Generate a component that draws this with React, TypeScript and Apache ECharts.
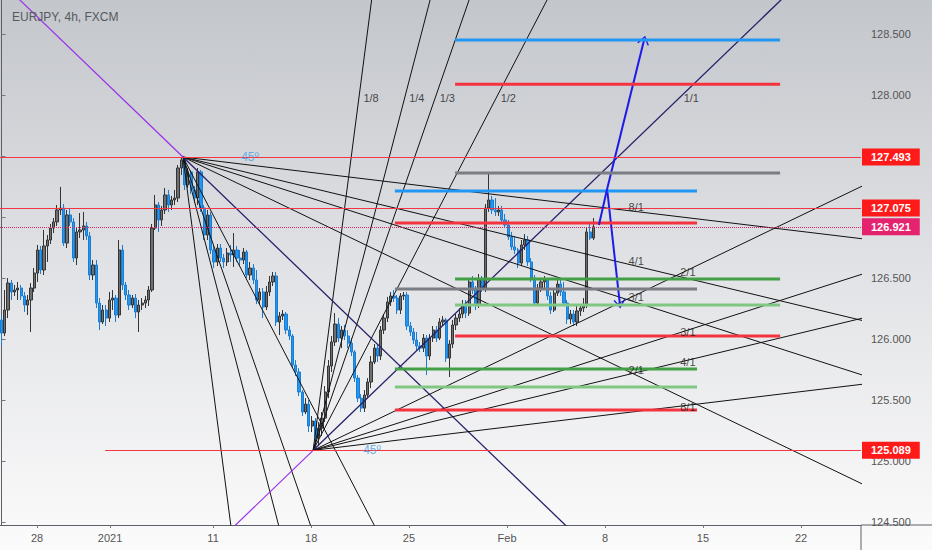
import React, { useEffect, useRef } from "react";
import * as echarts from "echarts";

// ---- candle data (4h bars, index 0 = first visible bar) ----
const FIRST_OPEN = 126.157;
const closes = [
  126.050, 126.239, 126.460, 126.387, 126.403, 126.419, 126.354, 126.280, 126.321, 126.419,
  126.542, 126.731, 126.567, 126.764, 126.813, 126.911, 126.961, 127.059, 127.075, 126.788,
  127.018, 126.961, 126.665, 126.879, 126.895, 126.928, 126.846, 126.526, 126.608, 126.296,
  126.141, 126.239, 126.173, 126.321, 126.337, 126.198, 126.731, 126.444, 126.362, 126.280,
  126.337, 126.223, 126.280, 126.296, 126.321, 126.403, 126.911, 127.100, 126.977, 127.059,
  127.182, 127.100, 127.141, 127.157, 127.403, 127.469, 127.264, 127.371, 127.223, 127.157,
  127.371, 127.075, 126.854, 127.018, 126.731, 126.633, 126.747, 126.665, 126.633, 126.706,
  126.690, 126.731, 126.665, 126.649, 126.715, 126.526, 126.583, 126.485, 126.321, 126.387,
  126.264, 126.387, 126.469, 126.518, 126.141, 126.190, 126.206, 126.075, 126.026, 125.788,
  125.731, 125.567, 125.403, 125.468, 125.288, 125.329, 125.198, 125.271, 125.353, 125.567,
  125.780, 125.977, 126.124, 126.009, 126.075, 126.026, 125.968, 125.895, 125.681, 125.517,
  125.435, 125.542, 125.649, 125.813, 125.927, 125.862, 126.075, 126.173, 126.305, 126.354,
  126.337, 126.239, 126.354, 126.362, 126.108, 126.059, 125.993, 125.944, 125.927, 126.009,
  125.862, 126.009, 126.075, 126.009, 126.141, 126.157, 125.845, 125.960, 126.116, 126.173,
  126.206, 126.280, 126.214, 126.469, 126.403, 126.280, 126.485, 126.419, 127.075, 127.141,
  127.059, 127.043, 127.059, 126.977, 126.936, 126.838, 126.756, 126.731, 126.624, 126.772,
  126.813, 126.633, 126.501, 126.296, 126.419, 126.469, 126.485, 126.354, 126.239, 126.378,
  126.452, 126.387, 126.296, 126.165, 126.206, 126.141, 126.231, 126.255, 126.288, 126.879,
  126.829, 126.921,
];
const highs = [
  126.198, 126.403, 126.501, 126.485, 126.444, 126.469, 126.444, 126.387, 126.362, 126.460,
  126.583, 126.772, 126.764, 126.895, 126.854, 126.944, 126.993, 127.100, 127.248, 127.108,
  127.059, 127.075, 126.993, 126.911, 127.034, 127.043, 126.961, 126.879, 126.649, 126.649,
  126.337, 126.280, 126.280, 126.387, 126.403, 126.362, 126.813, 126.772, 126.469, 126.403,
  126.362, 126.370, 126.321, 126.337, 126.354, 126.436, 126.944, 127.182, 127.124, 127.092,
  127.239, 127.223, 127.174, 127.223, 127.428, 127.493, 127.485, 127.403, 127.387, 127.256,
  127.403, 127.387, 127.100, 127.059, 127.043, 126.772, 126.780, 126.780, 126.698, 126.747,
  126.772, 126.870, 126.764, 126.731, 126.747, 126.731, 126.633, 126.616, 126.567, 126.419,
  126.419, 126.436, 126.518, 126.551, 126.551, 126.223, 126.239, 126.223, 126.108, 126.042,
  125.829, 125.763, 125.583, 125.517, 125.501, 125.370, 125.353, 125.321, 125.403, 125.616,
  125.829, 126.026, 126.214, 126.173, 126.108, 126.116, 126.075, 126.009, 125.911, 125.706,
  125.550, 125.583, 125.681, 125.862, 125.960, 125.960, 126.108, 126.206, 126.346, 126.387,
  126.403, 126.362, 126.378, 126.387, 126.387, 126.141, 126.091, 126.059, 125.977, 126.042,
  126.034, 126.042, 126.108, 126.108, 126.173, 126.190, 126.173, 125.993, 126.157, 126.206,
  126.255, 126.321, 126.321, 126.501, 126.518, 126.436, 126.534, 126.518, 127.108, 127.362,
  127.174, 127.157, 127.092, 127.092, 127.026, 126.977, 126.879, 126.846, 126.747, 126.813,
  126.862, 126.846, 126.665, 126.526, 126.452, 126.501, 126.518, 126.501, 126.387, 126.403,
  126.485, 126.485, 126.469, 126.321, 126.239, 126.239, 126.272, 126.288, 126.337, 126.911,
  126.952, 126.993,
];
const lows = [
  125.952, 126.026, 126.173, 126.321, 126.354, 126.321, 126.321, 126.223, 126.198, 126.059,
  126.387, 126.469, 126.534, 126.526, 126.633, 126.780, 126.870, 126.928, 127.018, 126.764,
  126.747, 126.928, 126.633, 126.608, 126.829, 126.813, 126.813, 126.485, 126.485, 126.255,
  126.075, 126.124, 126.108, 126.141, 126.239, 126.141, 126.173, 126.403, 126.321, 126.239,
  126.255, 126.173, 126.059, 126.239, 126.255, 126.272, 126.387, 126.895, 126.879, 126.928,
  127.026, 127.043, 127.059, 127.100, 127.124, 127.346, 127.223, 127.239, 127.190, 127.116,
  127.100, 127.043, 126.813, 126.813, 126.698, 126.583, 126.600, 126.633, 126.583, 126.600,
  126.633, 126.592, 126.633, 126.600, 126.616, 126.501, 126.485, 126.452, 126.288, 126.288,
  126.173, 126.239, 126.354, 126.436, 126.108, 126.034, 126.157, 126.042, 125.993, 125.763,
  125.698, 125.534, 125.370, 125.386, 125.239, 125.239, 125.089, 125.124, 125.206, 125.321,
  125.517, 125.731, 125.944, 125.977, 125.927, 125.993, 125.927, 125.862, 125.649, 125.485,
  125.403, 125.403, 125.517, 125.599, 125.796, 125.813, 125.829, 126.042, 126.141, 126.272,
  126.305, 126.206, 126.206, 126.321, 126.075, 126.026, 125.960, 125.911, 125.895, 125.895,
  125.706, 125.829, 125.977, 125.977, 125.993, 126.108, 125.813, 125.690, 125.927, 126.075,
  126.141, 126.173, 126.173, 126.190, 126.370, 126.239, 126.255, 126.387, 126.387, 127.043,
  127.026, 127.010, 127.010, 126.944, 126.911, 126.813, 126.731, 126.698, 126.583, 126.600,
  126.731, 126.600, 126.469, 126.272, 126.272, 126.387, 126.403, 126.321, 126.206, 126.223,
  126.354, 126.354, 126.272, 126.124, 126.124, 126.108, 126.108, 126.190, 126.223, 126.255,
  126.813, 126.813,
];

// ---- axes ----
const X_MIN = -0.46;
const X_MAX = 262.84;
const Y_MIN = 124.477;
const Y_MAX = 128.78;
const xTickPos = [10.86, 33.2, 64.7, 94.7, 124.6, 154.6, 184.6, 214.5, 244.5];
const xTickLabels = ["28", "2021", "11", "18", "25", "Feb", "8", "15", "22"];
const yTicks = [124.5, 125, 125.5, 126, 126.5, 127, 127.5, 128, 128.5];
const yTickLabels = [124.5, 125, 125.5, 126, 126.5, 128, 128.5]; // 127.000 / 127.500 sit under the price tags

// ---- price levels with axis tags ----
const levelPrices = [127.493, 127.075, 126.921, 125.089];
const levelStarts = [X_MIN, X_MIN, X_MIN, 31.7];
const levelColors = ["#f23645", "#f23645", "#e91e63", "#f23645"];
const levelTagColors = ["#ff1a1a", "#ff1a1a", "#e5226d", "#ff1a1a"];
const levelTypes = ["solid", "solid", "dotted", "solid"];

// ---- Gann fans ----
const fanTop = [55.5, 127.493];
const fanBottom = [95.3, 125.089];
const UNIT_SLOPE = 0.0258; // price per bar for the 1/1 line
const fanRatios = [8, 4, 3, 2, 1, 1 / 2, 1 / 3, 1 / 4, 1 / 8];
const topFanLabels = ["8/1", "4/1", "3/1", "2/1"];
const topFanLabelRatios = [1 / 8, 1 / 4, 1 / 3, 1 / 2];
const TOP_LABEL_X = 194.1;
const bottomFlatLabels = ["2/1", "3/1", "4/1", "8/1"];
const bottomFlatRatios = [1 / 2, 1 / 3, 1 / 4, 1 / 8];
const BOTTOM_FLAT_X = 209.9;
const bottomSteepLabels = ["1/8", "1/4", "1/3", "1/2", "1/1"];
const bottomSteepRatios = [8, 4, 3, 2, 1];
const BOTTOM_STEEP_PRICE = 127.977;
const angleLabelPos = [
  [76, 127.493],
  [113.3, 125.089],
];

// ---- target / level segments ----
const segPrices = [128.452, 128.09, 127.362, 127.214, 126.952, 126.493, 126.411, 126.28, 126.026, 125.755, 125.608, 125.419];
const segStarts = [138.7, 138.7, 138.7, 120.3, 120.3, 138.7, 120.3, 138.7, 138.7, 120.3, 120.3, 120.3];
const segEnds = [238.1, 238.1, 238.1, 212.7, 212.7, 238.1, 212.7, 238.1, 238.1, 212.7, 212.7, 212.7];
const segColors = ["#2196f3", "#f5333f", "#7b7d84", "#2196f3", "#f5333f", "#43a047", "#7b7d84", "#81c784", "#f5333f", "#43a047", "#81c784", "#f5333f"];

// ---- projection arrows ----
const arrowStart = [182.7, 126.936];
const arrowPivot = [185.2, 127.231];
const arrowDownEnd = [189.1, 126.288];
const arrowUpEnd = [196.5, 128.452];

const FONT = "'Liberation Sans', Arial, sans-serif";
const CHEVRON = "path://M0,10 L5,0 L10,10 L8.9,10.7 L5,2.6 L1.1,10.7 Z";

function rayPoints(p: number[], slope: number, dir: number) {
  const dx = Math.min(320, 6 / Math.abs(slope));
  return [
    [p[0], p[1]],
    [p[0] + dir * dx, p[1] + slope * dir * dx],
  ];
}

export default function App() {
  const ref = useRef<HTMLDivElement>(null);
  useEffect(() => {
    document.body.style.margin = "0";
    const chart = echarts.init(ref.current!, undefined, { renderer: "svg" });

    const candleData = closes.map((c, i) => [i, i === 0 ? FIRST_OPEN : closes[i - 1], c, lows[i], highs[i]]);

    const series: any[] = [];

    series.push({
      type: "candlestick",
      z: 2,
      barWidth: 2.7,
      dimensions: ["x", "open", "close", "lowest", "highest"],
      encode: { x: "x", y: ["open", "close", "lowest", "highest"] },
      data: candleData,
      itemStyle: {
        color: "#6f6f6f",
        color0: "#2196f3",
        borderColor: "#343434",
        borderColor0: "#1c7cd0",
        borderWidth: 1,
      },
      markLine: {
        silent: true,
        symbol: ["none", "none"],
        animation: false,
        z: 6,
        data: levelPrices.map((p, i) => {
          const lineStyle = { color: levelColors[i], width: 1, type: levelTypes[i] };
          const label = {
            show: true,
            position: "end",
            distance: 1,
            formatter: p.toFixed(3),
            color: "#ffffff",
            fontWeight: "bold",
            fontSize: 11,
            fontFamily: FONT,
            backgroundColor: levelTagColors[i],
            padding: [3, 9, 3, 9],
          };
          return [
            { coord: [levelStarts[i], p], lineStyle, label },
            { coord: [X_MAX, p], lineStyle, label },
          ];
        }),
      },
    });

    // Gann fan rays
    fanRatios.forEach((r) => {
      const isUnit = r === 1;
      const style = { color: isUnit ? "#26206a" : "#111111", width: isUnit ? 1.3 : 1 };
      series.push({
        type: "line", z: 4, silent: true, showSymbol: false, symbol: "none",
        data: rayPoints(fanTop, -UNIT_SLOPE * r, 1), lineStyle: style,
      });
      series.push({
        type: "line", z: 4, silent: true, showSymbol: false, symbol: "none",
        data: rayPoints(fanBottom, UNIT_SLOPE * r, 1), lineStyle: style,
      });
    });
    // backward 45° extensions
    series.push({
      type: "line", z: 4, silent: true, showSymbol: false, symbol: "none",
      data: rayPoints(fanTop, -UNIT_SLOPE, -1), lineStyle: { color: "#9b30e8", width: 1.2 },
    });
    series.push({
      type: "line", z: 4, silent: true, showSymbol: false, symbol: "none",
      data: rayPoints(fanBottom, UNIT_SLOPE, -1), lineStyle: { color: "#9b30e8", width: 1.2 },
    });

    // level segments
    segPrices.forEach((p, i) => {
      series.push({
        type: "line", z: 5, silent: true, showSymbol: false, symbol: "none",
        data: [[segStarts[i], p], [segEnds[i], p]],
        lineStyle: { color: segColors[i], width: 3 },
      });
    });

    // arrows
    const arrowLine = { color: "#1c1ce6", width: 2, type: "solid" };
    series.push({
      type: "line", z: 7, silent: true, showSymbol: false, symbol: "none",
      data: [arrowStart, arrowPivot],
      lineStyle: arrowLine,
      markLine: {
        silent: true,
        animation: false,
        symbolSize: [12, 9],
        label: { show: false },
        lineStyle: arrowLine,
        data: [
          [{ coord: arrowPivot, symbol: "none" }, { coord: arrowDownEnd, symbol: CHEVRON }],
          [{ coord: arrowPivot, symbol: "none" }, { coord: arrowUpEnd, symbol: CHEVRON }],
        ],
      },
    });

    // labels
    const labelData: any[] = [];
    topFanLabels.forEach((t, i) => {
      const r = topFanLabelRatios[i];
      labelData.push({
        name: t,
        value: [TOP_LABEL_X, fanTop[1] - UNIT_SLOPE * r * (TOP_LABEL_X - fanTop[0])],
        label: { position: "inside", offset: [0, -5] },
      });
    });
    bottomFlatLabels.forEach((t, i) => {
      const r = bottomFlatRatios[i];
      labelData.push({
        name: t,
        value: [BOTTOM_FLAT_X, fanBottom[1] + UNIT_SLOPE * r * (BOTTOM_FLAT_X - fanBottom[0])],
        label: { position: "inside", offset: [0, 2] },
      });
    });
    bottomSteepLabels.forEach((t, i) => {
      const r = bottomSteepRatios[i];
      labelData.push({
        name: t,
        value: [fanBottom[0] + (BOTTOM_STEEP_PRICE - fanBottom[1]) / (UNIT_SLOPE * r), BOTTOM_STEEP_PRICE],
        label: { position: "right", distance: 4 },
      });
    });
    angleLabelPos.forEach((p) => {
      labelData.push({
        name: "45º",
        value: p,
        label: { position: "inside", color: "#4a9de0", fontSize: 12 },
      });
    });
    series.push({
      type: "scatter",
      z: 8,
      silent: true,
      symbolSize: 1,
      itemStyle: { color: "rgba(0,0,0,0)" },
      data: labelData,
      label: { show: true, formatter: "{b}", color: "#1a1a1a", fontSize: 11, fontFamily: FONT },
    });

    chart.setOption({
      animation: false,
      backgroundColor: "transparent",
      textStyle: { fontFamily: FONT },
      title: {
        text: "EURJPY, 4h, FXCM",
        left: 7,
        top: 6,
        textStyle: { fontSize: 12, color: "#555a60", fontWeight: "normal", fontFamily: FONT },
      },
      grid: { left: 0, right: 71, top: 0, bottom: 25, containLabel: false },
      xAxis: {
        type: "value",
        min: X_MIN,
        max: X_MAX,
        axisLine: { show: true, onZero: false, lineStyle: { color: "#5d606b", width: 1 } },
        axisTick: { show: true, customValues: xTickPos, length: 3, lineStyle: { color: "#777" } },
        axisLabel: {
          customValues: xTickPos,
          formatter: (v: number) => {
            let best = 0;
            xTickPos.forEach((p, j) => {
              if (Math.abs(p - v) < Math.abs(xTickPos[best] - v)) best = j;
            });
            return xTickLabels[best];
          },
          color: "#555",
          fontSize: 11,
          margin: 7,
        },
        splitLine: { show: false },
      },
      yAxis: {
        type: "value",
        position: "right",
        min: Y_MIN,
        max: Y_MAX,
        axisLine: { show: true, lineStyle: { color: "#5d606b", width: 1 } },
        axisTick: { show: true, customValues: yTicks, length: 4, lineStyle: { color: "#777" } },
        axisLabel: {
          customValues: yTickLabels,
          formatter: (v: number) => v.toFixed(3),
          color: "#555",
          fontSize: 11,
          margin: 10,
        },
        splitLine: { show: false },
      },
      graphic: [
        { type: "line", silent: true, shape: { x1: 861, y1: 525, x2: 932, y2: 525 }, style: { stroke: "#5d606b", lineWidth: 1 } },
        { type: "line", silent: true, shape: { x1: 861, y1: 525, x2: 861, y2: 550 }, style: { stroke: "#5d606b", lineWidth: 1 } },
      ],
      series,
    });

    return () => chart.dispose();
  }, []);

  return (
    <div
      ref={ref}
      style={{
        position: "absolute",
        left: 0,
        top: 0,
        width: 932,
        height: 550,
        background: "linear-gradient(to bottom, #c3c6cb 0%, #e2e3e6 50%, #fbfbfb 100%)",
      }}
    />
  );
}
